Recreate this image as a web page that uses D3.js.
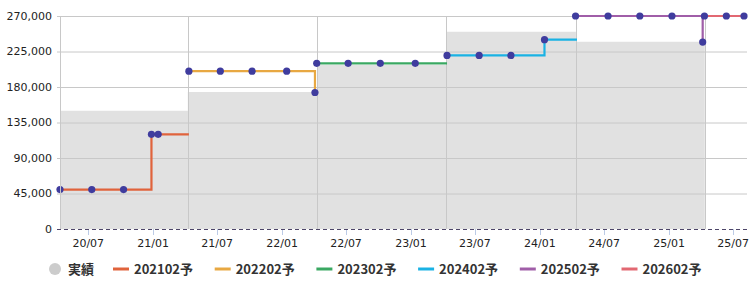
<!DOCTYPE html>
<html>
<head>
<meta charset="utf-8">
<script src="https://cdn.jsdelivr.net/npm/d3@7"></script>
<style>
  body { margin: 0; background: #fff; }
  svg { display: block; }
</style>
</head>
<body>
<svg id="chart"></svg>
<script>
// actual results: step starts (last date closes the final step)
const actualDates = ["2020-04-12", "2021-04-09", "2022-04-10", "2023-04-11", "2024-04-12", "2025-04-12"];
const actualValues = [150000, 173700, 208000, 250000, 237500];

// forecasts per fiscal year
const seriesNames = ["202102予", "202202予", "202302予", "202402予", "202502予", "202602予"];
const fc2102Dates = ["2020-04-12", "2020-07-11", "2020-10-09", "2020-12-27", "2021-01-15"];
const fc2102Values = [50000, 50000, 50000, 120000, 120000];
const fc2202Dates = ["2021-04-12", "2021-07-10", "2021-10-08", "2022-01-14", "2022-04-04"];
const fc2202Values = [200000, 200000, 200000, 200000, 173000];
const fc2302Dates = ["2022-04-09", "2022-07-07", "2022-10-06", "2023-01-13"];
const fc2302Values = [210000, 210000, 210000, 210000];
const fc2402Dates = ["2023-04-13", "2023-07-13", "2023-10-11", "2024-01-14"];
const fc2402Values = [220000, 220000, 220000, 240000];
const fc2502Dates = ["2024-04-11", "2024-07-12", "2024-10-10", "2025-01-09", "2025-04-06"];
const fc2502Values = [270000, 270000, 270000, 270000, 237000];
const fc2602Dates = ["2025-04-11", "2025-06-12", "2025-08-01"];
const fc2602Values = [270000, 270000, 270000];
// where each forecast line stops
const seriesEnds = ["2021-04-12", "2022-04-04", "2023-04-13", "2024-04-15", "2025-04-06", "2025-08-01"];

const yTicks = [0, 45000, 90000, 135000, 180000, 225000, 270000];
const xDomain = ["2020-04-12", "2025-08-01"];

const colors = ["#e0633c", "#e8a842", "#3aa862", "#1ab2e4", "#a05ea8", "#e26872"];

const width = 756, height = 287;
const margin = { left: 60, right: 12, top: 16, bottom: 58 };
const parse = d3.timeParse("%Y-%m-%d");

const svg = d3.select("#chart").attr("width", width).attr("height", height);

const x = d3.scaleTime()
    .domain(xDomain.map(parse))
    .range([margin.left, width - margin.right]);
const y = d3.scaleLinear()
    .domain([0, 270000])
    .range([height - margin.bottom, margin.top]);

const x0 = margin.left, x1 = width - margin.right + 3;

// gray area for actuals
const actual = actualValues.map((v, i) => ({ date: parse(actualDates[i]), value: v }));
actual.push({ date: parse(actualDates[actualDates.length - 1]), value: actualValues[actualValues.length - 1] });
svg.append("path")
    .datum(actual)
    .attr("fill", "#e1e1e1")
    .attr("d", d3.area()
        .curve(d3.curveStepAfter)
        .x(d => x(d.date))
        .y0(y(0))
        .y1(d => y(d.value)));

// horizontal grid
svg.append("g")
    .selectAll("line")
    .data(yTicks.filter(d => d > 0))
    .join("line")
    .attr("x1", x0 - 3)
    .attr("x2", x1)
    .attr("y1", d => y(d) + 0.5)
    .attr("y2", d => y(d) + 0.5)
    .attr("stroke", "#c8c8c8");

// vertical grid at result dates
svg.append("g")
    .selectAll("line")
    .data(actualDates.map(parse))
    .join("line")
    .attr("x1", d => Math.round(x(d)) + 0.5)
    .attr("x2", d => Math.round(x(d)) + 0.5)
    .attr("y1", y(270000))
    .attr("y2", y(0))
    .attr("stroke", "#c8c8c8");

// y labels
svg.append("g")
    .selectAll("text")
    .data(yTicks)
    .join("text")
    .attr("x", x0 - 8)
    .attr("y", d => y(d))
    .attr("dy", "0.36em")
    .attr("text-anchor", "end")
    .attr("font-family", "DejaVu Sans, Verdana, sans-serif")
    .attr("font-size", 11)
    .attr("fill", "#222")
    .text(d => d3.format(",")(d));

// x ticks and labels
const xTicks = x.ticks(d3.timeMonth.every(6));
svg.append("g")
    .selectAll("line")
    .data(xTicks)
    .join("line")
    .attr("x1", d => Math.round(x(d)) + 0.5)
    .attr("x2", d => Math.round(x(d)) + 0.5)
    .attr("y1", y(0))
    .attr("y2", y(0) + 6)
    .attr("stroke", "#bccbe6");
svg.append("g")
    .selectAll("text")
    .data(xTicks)
    .join("text")
    .attr("x", d => x(d))
    .attr("y", y(0) + 18)
    .attr("text-anchor", "middle")
    .attr("font-family", "DejaVu Sans, Verdana, sans-serif")
    .attr("font-size", 11)
    .attr("fill", "#222")
    .text(d => d3.timeFormat("%y/%m")(d));

// zero baseline
svg.append("line")
    .attr("x1", x0 - 3)
    .attr("x2", x1)
    .attr("y1", y(0) + 0.5)
    .attr("y2", y(0) + 0.5)
    .attr("stroke", "#4d4568")
    .attr("stroke-dasharray", "4,3");

// forecast series
const seriesDates = [fc2102Dates, fc2202Dates, fc2302Dates, fc2402Dates, fc2502Dates, fc2602Dates];
const seriesValues = [fc2102Values, fc2202Values, fc2302Values, fc2402Values, fc2502Values, fc2602Values];
const series = seriesNames.map((name, i) => {
    const pts = seriesDates[i].map((d, j) => ({ date: parse(d), value: seriesValues[i][j] }));
    return { name, color: colors[i], points: pts, end: parse(seriesEnds[i]) };
});

const line = d3.line()
    .curve(d3.curveStepAfter)
    .x(d => x(d.date))
    .y(d => y(d.value));

svg.append("g")
    .selectAll("path")
    .data(series)
    .join("path")
    .attr("fill", "none")
    .attr("stroke", d => d.color)
    .attr("stroke-width", 2.2)
    .attr("d", d => line(d.points.concat([{ date: d.end, value: d.points[d.points.length - 1].value }])));

svg.append("g")
    .selectAll("circle")
    .data(series.flatMap(s => s.points))
    .join("circle")
    .attr("cx", d => x(d.date))
    .attr("cy", d => y(d.value))
    .attr("r", 3.6)
    .attr("fill", "#3f3c9e");

// left axis line
svg.append("line")
    .attr("x1", x0 + 0.5)
    .attr("x2", x0 + 0.5)
    .attr("y1", y(270000))
    .attr("y2", y(0))
    .attr("stroke", "#c8c8c8");

// legend
const legend = svg.append("g")
    .attr("font-family", "Noto Sans CJK JP, sans-serif")
    .attr("font-size", 13)
    .attr("font-weight", "bold")
    .attr("fill", "#333");
const ly = 269;
legend.append("circle")
    .attr("cx", 55)
    .attr("cy", ly)
    .attr("r", 6)
    .attr("fill", "#cccccc");
legend.append("text")
    .attr("x", 68)
    .attr("y", ly)
    .attr("dy", "0.36em")
    .text("実績");
const item = legend.selectAll("g.item")
    .data(series)
    .join("g")
    .attr("class", "item")
    .attr("transform", (d, i) => `translate(${113 + i * 101.7},${ly})`);
item.append("line")
    .attr("x1", 0)
    .attr("x2", 16)
    .attr("stroke", d => d.color)
    .attr("stroke-width", 3);
item.append("text")
    .attr("x", 21)
    .attr("dy", "0.36em")
    .text(d => d.name);
</script>
</body>
</html>
